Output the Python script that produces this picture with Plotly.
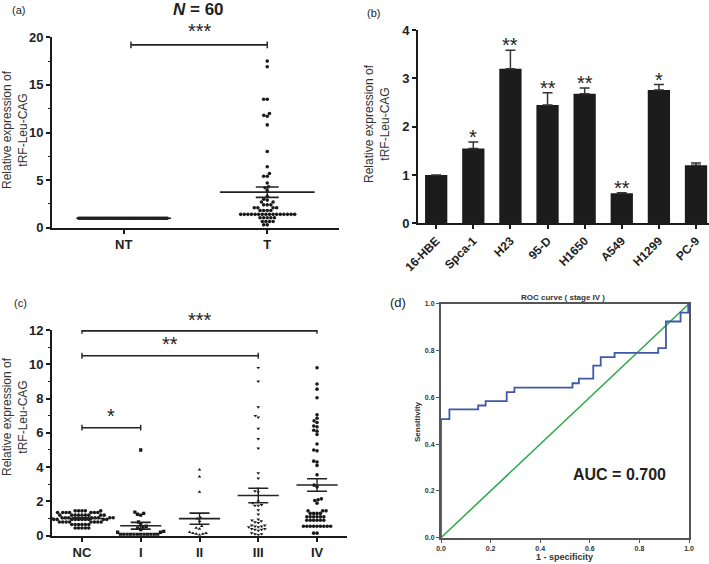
import math
import numpy as np
import plotly.graph_objects as go

FONT = "Liberation Sans"

# ---------------- data ----------------
# (a) NT vs T
nt_values = [1.0] * 60
t_values = [17.5, 16.9, 13.5, 13.5, 12.0, 11.8, 11.7, 10.8, 8.0, 6.4, 5.7, 5.4, 5.4, 4.7, 4.3,
            4.2, 3.9, 3.3, 3.0, 2.9,
            2.7, 2.7, 2.4, 2.4, 2.4, 2.1, 2.1, 2.1, 2.1, 1.8, 1.8, 1.8, 1.8,
            1.4, 1.4, 1.4, 1.4, 1.4, 1.4, 1.4, 1.4, 1.4, 1.4, 1.4, 1.4, 1.4, 1.4, 1.4, 1.4,
            1.05, 1.05, 1.05, 1.05, 1.05, 0.65, 0.65, 0.65, 0.65, 0.3, 0.3]
a_groups = ["NT", "T"]

# (b) cell lines
cell_lines = ["16-HBE", "Spca-1", "H23", "95-D", "H1650", "A549", "H1299", "PC-9"]
cell_expr = [1.0, 1.55, 3.2, 2.45, 2.68, 0.62, 2.76, 1.2]
cell_err = [0.0, 0.13, 0.38, 0.25, 0.12, 0.01, 0.11, 0.05]
cell_sig = ["", "*", "**", "**", "**", "**", "*", ""]

# (c) stages
stage_labels = ["NC", "I", "II", "III", "IV"]
nc_values = [1.45] * 5 + [1.35] * 7 + [1.2] * 9 + [1.05] * 10 + [0.95] * 10 + [0.8] * 8 + [0.65] * 6 + [0.45] * 5
i_values = [5.0, 1.38, 1.3, 1.25, 1.2, 0.8, 0.65, 0.55, 0.5, 0.45, 0.35, 0.25, 0.2, 0.2] + [0.08] * 12
ii_values = [3.85, 3.45, 2.55, 1.05, 1.0, 0.85, 0.55, 0.45, 0.4, 0.2, 0.15, 0.15, 0.1, 0.1, 0.05]
iii_values = [9.8, 9.0, 7.5, 7.0, 6.9, 6.25, 5.65, 5.1, 3.65, 3.35,
              2.75, 2.6, 2.55, 2.0, 1.9, 1.8, 1.75, 1.75, 1.5, 1.25,
              0.95, 0.9, 0.85, 0.8, 0.75, 0.6, 0.6, 0.55, 0.55, 0.5,
              0.5, 0.4, 0.4, 0.35, 0.35, 0.3, 0.15, 0.1, 0.1, 0.05]
iv_values = [9.8, 8.85, 8.55, 8.05, 7.05, 6.85, 6.7, 6.6, 6.4, 6.35, 6.15, 6.1, 5.9, 5.35, 5.0,
             4.95, 4.35, 4.3, 4.1, 3.55,
             2.95, 2.85, 2.15, 2.1, 2.05, 1.9,
             1.45, 1.45, 1.45, 1.3, 1.3, 1.3, 1.3, 1.1, 1.1, 1.1, 1.1, 1.1, 1.1,
             0.9, 0.9, 0.9, 0.9, 0.9, 0.9, 0.55, 0.55, 0.55, 0.55, 0.55, 0.55, 0.55, 0.55, 0.55,
             0.15, 0.15]
stage_values = [nc_values, i_values, ii_values, iii_values, iv_values]
stage_symbols = ["circle", "square", "triangle-up", "triangle-down", "circle"]

# significance comparisons (group a, group b, bracket level, label)
sig_a = [(0, 1, 19.2, "***")]
sig_c = [(0, 1, 6.3, "*"), (0, 3, 10.5, "**"), (0, 4, 11.95, "***")]

# (d) ROC (stage IV)
roc_fpr = [0.0, 0.0, 0.034, 0.15, 0.18, 0.265, 0.296, 0.53, 0.556, 0.614, 0.644, 0.70, 0.876, 0.907, 0.966, 0.997, 1.0]
roc_tpr = [0.0, 0.507, 0.548, 0.565, 0.584, 0.622, 0.641, 0.66, 0.68, 0.735, 0.772, 0.79, 0.81, 0.924, 0.962, 1.0, 1.0]
auc_text = "AUC = 0.700"

# ---------------- helpers ----------------
W, H = 709, 564


def px(x):
    return x / W


def py(y):
    return 1 - y / H


# axis pixel geometry: (domain in px, range)
A_X = ((52, 339), (-0.5, 1.5))
A_Y = ((227.7, 37.3), (0, 20))
B_X = ((418, 709), (-0.49, 7.35))
B_Y = ((223.3, 30), (0, 4))
C_X = ((52, 347), (-0.51, 4.51))
C_Y = ((535.7, 330), (0, 12))
D_X = ((441, 689), (0, 1))
D_Y = ((537.7, 303.7), (0, 1))


def dom_x(g):
    return [px(g[0][0]), px(g[0][1])]


def dom_y(g):
    return [py(g[0][0]), py(g[0][1])]


def to_paper_y(g, v):
    (p0, p1), (r0, r1) = g
    return py(p0 + (v - r0) / (r1 - r0) * (p1 - p0))


def swarm(vals, yscale, d):
    vals = np.asarray(vals, float)
    order = np.argsort(vals, kind="stable")
    placed = []
    offs = np.zeros(len(vals))
    for i in order:
        y = vals[i] * yscale
        near = [(qx, qy) for qx, qy in placed if abs(qy - y) < d]
        cands = [0.0]
        for qx, qy in near:
            dx = math.sqrt(max(d * d - (qy - y) ** 2, 0))
            cands += [qx + dx, qx - dx]
        cands = sorted(cands, key=lambda c: (abs(c), c))
        chosen = cands[-1]
        for c in cands:
            if all((c - qx) ** 2 + (y - qy) ** 2 >= d * d - 1e-6 for qx, qy in near):
                chosen = c
                break
        placed.append((chosen, y))
        offs[i] = chosen
    return offs


fig = go.Figure()
shapes = []
annotations = []

# ---------- panel (a) ----------
a_xscale = (A_X[0][1] - A_X[0][0]) / (A_X[1][1] - A_X[1][0])
a_yscale = (A_Y[0][0] - A_Y[0][1]) / (A_Y[1][1] - A_Y[1][0])
for gi, (vals, dd) in enumerate([(nt_values, 1.5), (t_values, 3.6)]):
    offs = swarm(vals, a_yscale, dd)
    fig.add_trace(go.Scatter(x=gi + offs / a_xscale, y=vals, mode="markers",
                             marker=dict(color="#1a1a1a", size=3.6, symbol="circle"),
                             xaxis="x", yaxis="y", showlegend=False, hoverinfo="y"))
    m = float(np.mean(vals))
    s = float(np.std(vals, ddof=1) / math.sqrt(len(vals)))
    shapes.append(dict(type="line", xref="x", yref="y", x0=gi - 0.33, x1=gi + 0.33, y0=m, y1=m,
                       line=dict(color="#222", width=1.6)))
    if s > 0:
        for yy in (m - s, m + s):
            shapes.append(dict(type="line", xref="x", yref="y", x0=gi - 0.08, x1=gi + 0.08, y0=yy, y1=yy,
                               line=dict(color="#222", width=1.6)))
        shapes.append(dict(type="line", xref="x", yref="y", x0=gi, x1=gi, y0=m - s, y1=m + s,
                           line=dict(color="#222", width=1.4)))

for g0, g1, lvl, lab in sig_a:
    shapes.append(dict(type="line", xref="x", yref="y", x0=g0 + 0.05, x1=g1, y0=lvl, y1=lvl,
                       line=dict(color="#222", width=1.6)))
    for gx in (g0 + 0.05, g1):
        shapes.append(dict(type="line", xref="x", yref="y", x0=gx, x1=gx, y0=lvl - 0.35, y1=lvl + 0.35,
                           line=dict(color="#222", width=1.4)))
    annotations.append(dict(xref="x", yref="paper", x=(g0 + g1) / 2 + 0.03, y=to_paper_y(A_Y, lvl + 1.45),
                            text=lab, showarrow=False, yanchor="middle",
                            font=dict(family=FONT, size=20, color="#222")))

# ---------- panel (b) ----------
fig.add_trace(go.Bar(x=list(range(len(cell_lines))), y=cell_expr, width=0.6,
                     marker=dict(color="#1c1c1c", line=dict(width=0)),
                     error_y=dict(type="data", array=cell_err, arrayminus=[0] * len(cell_err),
                                  symmetric=False, color="#333", thickness=1.5, width=5),
                     xaxis="x2", yaxis="y2", showlegend=False))
for i, lab in enumerate(cell_sig):
    if lab:
        annotations.append(dict(xref="x2", yref="y2", x=i, y=cell_expr[i] + cell_err[i], text=lab,
                                showarrow=False, yanchor="middle", yshift=5,
                                font=dict(family=FONT, size=20, color="#222")))

# ---------- panel (c) ----------
c_xscale = (C_X[0][1] - C_X[0][0]) / (C_X[1][1] - C_X[1][0])
c_yscale = (C_Y[0][0] - C_Y[0][1]) / (C_Y[1][1] - C_Y[1][0])
for gi, vals in enumerate(stage_values):
    offs = swarm(vals, c_yscale, 3.4)
    fig.add_trace(go.Scatter(x=gi + offs / c_xscale, y=vals, mode="markers",
                             marker=dict(color="#1a1a1a", size=3.6 if gi in (0, 4) else 3.3,
                                         symbol=stage_symbols[gi]),
                             xaxis="x3", yaxis="y3", showlegend=False, hoverinfo="y"))
    m = float(np.mean(vals))
    s = float(np.std(vals, ddof=1) / math.sqrt(len(vals)))
    shapes.append(dict(type="line", xref="x3", yref="y3", x0=gi - 0.35, x1=gi + 0.35, y0=m, y1=m,
                       line=dict(color="#222", width=1.6)))
    for yy in (m - s, m + s):
        shapes.append(dict(type="line", xref="x3", yref="y3", x0=gi - 0.17, x1=gi + 0.17, y0=yy, y1=yy,
                           line=dict(color="#222", width=1.6)))
    shapes.append(dict(type="line", xref="x3", yref="y3", x0=gi, x1=gi, y0=m - s, y1=m + s,
                       line=dict(color="#222", width=1.4)))

for g0, g1, lvl, lab in sig_c:
    shapes.append(dict(type="line", xref="x3", yref="y3", x0=g0, x1=g1, y0=lvl, y1=lvl,
                       line=dict(color="#222", width=1.6)))
    for gx in (g0, g1):
        shapes.append(dict(type="line", xref="x3", yref="y3", x0=gx, x1=gx, y0=lvl - 0.17, y1=lvl + 0.17,
                           line=dict(color="#222", width=1.4)))
    annotations.append(dict(xref="x3", yref="paper", x=(g0 + g1) / 2, y=to_paper_y(C_Y, lvl + 0.66), text=lab,
                            showarrow=False, yanchor="middle", font=dict(family=FONT, size=20, color="#222")))

# ---------- panel (d) ----------
fig.add_trace(go.Scatter(x=[0, 1], y=[0, 1], mode="lines", line=dict(color="#2aa84a", width=1.5),
                         xaxis="x4", yaxis="y4", showlegend=False))
fig.add_trace(go.Scatter(x=roc_fpr, y=roc_tpr, mode="lines", line=dict(color="#3f58a8", width=1.8, shape="hv"),
                         xaxis="x4", yaxis="y4", showlegend=False))
annotations.append(dict(xref="x4", yref="y4", x=0.72, y=0.268, text="<b>" + auc_text + "</b>", showarrow=False,
                        font=dict(family=FONT, size=16, color="#222")))

# ---------- titles / labels ----------
ytitle = "Relative expression of<br>tRF-Leu-CAG"
for xx, yy in [(15, 130), (377, 123), (15, 417)]:
    annotations.append(dict(xref="paper", yref="paper", x=px(xx), y=py(yy), text=ytitle, textangle=-90,
                            showarrow=False, xanchor="center", yanchor="middle",
                            font=dict(family=FONT, size=12, color="#333")))
for lab, xx, yy, fs in [("(a)", 18, 10, 11), ("(b)", 374, 13, 11), ("(c)", 20, 303, 11), ("(d)", 398, 302, 13)]:
    annotations.append(dict(xref="paper", yref="paper", x=px(xx), y=py(yy), text=lab, showarrow=False,
                            xanchor="center", yanchor="middle", font=dict(family=FONT, size=fs, color="#222")))
annotations.append(dict(xref="paper", yref="paper", x=px(198), y=py(10), text="<b><i>N</i> = 60</b>",
                        showarrow=False, xanchor="center", yanchor="middle",
                        font=dict(family=FONT, size=17, color="#222")))
annotations.append(dict(xref="paper", yref="paper", x=px(563), y=py(297), text="<b>ROC curve ( stage IV )</b>",
                        showarrow=False, xanchor="center", yanchor="middle",
                        font=dict(family=FONT, size=8, color="#333")))
annotations.append(dict(xref="paper", yref="paper", x=px(417), y=py(422), text="<b>Sensitivity</b>",
                        textangle=-90, showarrow=False, xanchor="center", yanchor="middle",
                        font=dict(family=FONT, size=8, color="#333")))
annotations.append(dict(xref="paper", yref="paper", x=px(564), y=py(557), text="<b>1 - specificity</b>",
                        showarrow=False, xanchor="center", yanchor="middle",
                        font=dict(family=FONT, size=9, color="#333")))

tickf = dict(family=FONT, size=13, color="#222", weight="bold")
ax_common = dict(showline=True, linecolor="#1a1a1a", linewidth=1.8, ticks="outside", tickcolor="#1a1a1a",
                 tickwidth=1.5, ticklen=4, showgrid=False, zeroline=False, automargin=False)

roc_ax = dict(showline=True, linecolor="#555", linewidth=2, mirror=True, ticks="outside", tickcolor="#555",
              tickwidth=1, ticklen=3, showgrid=False, zeroline=False, automargin=False,
              tickvals=[0, 0.2, 0.4, 0.6, 0.8, 1.0], ticktext=["0.0", "0.2", "0.4", "0.6", "0.8", "1.0"],
              tickfont=dict(family=FONT, size=7, color="#333", weight="bold"))

fig.update_layout(
    width=W, height=H, margin=dict(l=0, r=0, t=0, b=0, autoexpand=False),
    paper_bgcolor="white", plot_bgcolor="white",
    xaxis=dict(domain=dom_x(A_X), range=list(A_X[1]), tickvals=[0, 1], ticktext=a_groups,
               anchor="y", tickfont=tickf, **ax_common),
    yaxis=dict(domain=dom_y(A_Y), range=list(A_Y[1]), tickvals=[0, 5, 10, 15, 20], anchor="x", tickfont=tickf,
               minor=dict(dtick=2.5, ticks="outside", ticklen=2, tickcolor="#1a1a1a", tickwidth=1),
               **ax_common),
    xaxis2=dict(domain=dom_x(B_X), range=list(B_X[1]), tickvals=list(range(len(cell_lines))),
                ticktext=cell_lines, tickangle=-45, anchor="y2",
                tickfont=dict(family=FONT, size=12, color="#222", weight="bold"), **ax_common),
    yaxis2=dict(domain=dom_y(B_Y), range=list(B_Y[1]), tickvals=[0, 1, 2, 3, 4], anchor="x2", tickfont=tickf,
                **ax_common),
    xaxis3=dict(domain=dom_x(C_X), range=list(C_X[1]), tickvals=list(range(5)), ticktext=stage_labels,
                anchor="y3", tickfont=tickf, **ax_common),
    yaxis3=dict(domain=dom_y(C_Y), range=list(C_Y[1]), tickvals=[0, 2, 4, 6, 8, 10, 12], anchor="x3",
                tickfont=tickf,
                minor=dict(dtick=1, ticks="outside", ticklen=2, tickcolor="#1a1a1a", tickwidth=1),
                **ax_common),
    xaxis4=dict(domain=dom_x(D_X), range=list(D_X[1]), anchor="y4", **roc_ax),
    yaxis4=dict(domain=dom_y(D_Y), range=list(D_Y[1]), anchor="x4", **roc_ax),
    shapes=shapes, annotations=annotations,
)

fig.write_html("out.html", config={"displayModeBar": False},
               post_script="document.body.style.margin='0';document.body.style.padding='0';"
                           "document.documentElement.style.overflow='hidden';")
